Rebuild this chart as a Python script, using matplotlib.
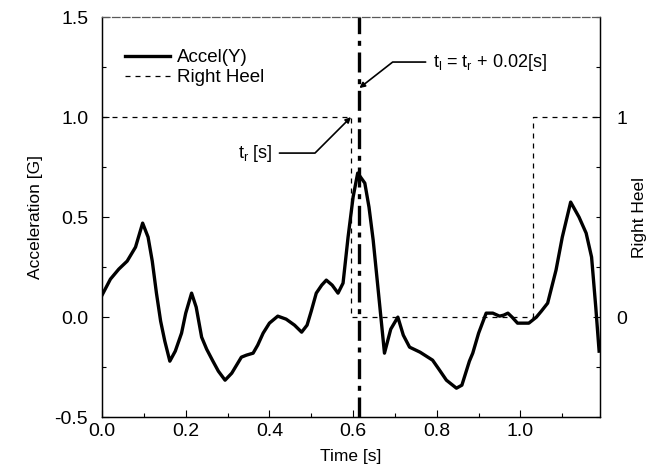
import matplotlib
matplotlib.use("Agg")
import matplotlib.pyplot as plt
from matplotlib.ticker import MultipleLocator, FixedLocator, FormatStrFormatter

plt.rcParams['font.family'] = ['Liberation Sans', 'DejaVu Sans']
plt.rcParams['mathtext.fontset'] = 'custom'
plt.rcParams['mathtext.rm'] = 'Liberation Sans'
plt.rcParams['mathtext.it'] = 'Liberation Sans'

# acceleration (Y)
time = [0.00, 0.02, 0.04, 0.06, 0.08, 0.097, 0.11, 0.12, 0.13, 0.14, 0.15, 0.162,
        0.175, 0.19, 0.20, 0.214, 0.225, 0.238, 0.25, 0.265, 0.278, 0.294, 0.31, 0.333,
        0.345, 0.361, 0.372, 0.385, 0.40, 0.42, 0.44, 0.46, 0.477, 0.49, 0.50, 0.512,
        0.525, 0.536, 0.55, 0.564, 0.576, 0.588, 0.60, 0.611, 0.628, 0.638, 0.648, 0.66,
        0.675, 0.69, 0.707, 0.72, 0.735, 0.76, 0.79, 0.805, 0.823, 0.847, 0.86, 0.878,
        0.886, 0.90, 0.918, 0.934, 0.95, 0.96, 0.97, 0.98, 0.993, 1.02, 1.038, 1.05,
        1.065, 1.085, 1.10, 1.12, 1.14, 1.157, 1.17, 1.18, 1.188]
accel = [0.11, 0.19, 0.24, 0.28, 0.35, 0.47, 0.40, 0.28, 0.12, -0.02, -0.12, -0.22,
         -0.17, -0.08, 0.02, 0.12, 0.05, -0.10, -0.16, -0.22, -0.27, -0.315, -0.28, -0.20,
         -0.19, -0.18, -0.14, -0.08, -0.03, 0.005, -0.01, -0.04, -0.075, -0.04, 0.03, 0.12,
         0.16, 0.185, 0.16, 0.12, 0.17, 0.40, 0.60, 0.72, 0.67, 0.55, 0.385, 0.135,
         -0.18, -0.06, 0.00, -0.09, -0.15, -0.175, -0.215, -0.26, -0.315, -0.355, -0.34, -0.22,
         -0.18, -0.08, 0.02, 0.02, 0.005, 0.01, 0.02, 0.00, -0.03, -0.03, 0.00, 0.03,
         0.07, 0.235, 0.40, 0.575, 0.50, 0.42, 0.30, 0.05, -0.17]

# right heel switch (on/off)
heel_t = [0.0, 0.595, 0.595, 1.03, 1.03, 1.19]
heel = [1, 1, 0, 0, 1, 1]

t_r = 0.595
t_l = t_r + 0.02

fig = plt.figure(figsize=(6.5, 4.73), dpi=100)
ax = fig.add_axes([0.157, 0.118, 0.766, 0.846])
ax2 = ax.twinx()

dash = (0, (4, 4))
ax.plot(time, accel, color='black', lw=2.4, label='Accel(Y)')
ax.plot([], [], color='black', lw=0.9, ls=dash, label='Right Heel')
ax2.plot(heel_t, heel, color='black', lw=0.9, ls=dash)
ax.axvline(t_l, color='black', lw=2.4, ls=(0, (6, 2, 1.5, 2)))

ax.set_xlim(0, 1.19)
ax.set_ylim(-0.5, 1.5)
ax2.set_ylim(-0.5, 1.5)
ax.xaxis.set_major_locator(MultipleLocator(0.2))
ax.xaxis.set_minor_locator(MultipleLocator(0.1))
ax.yaxis.set_major_locator(MultipleLocator(0.5))
ax.yaxis.set_minor_locator(MultipleLocator(0.25))
ax2.yaxis.set_major_locator(FixedLocator([0, 1]))
ax2.yaxis.set_minor_locator(MultipleLocator(0.25))
ax.xaxis.set_major_formatter(FormatStrFormatter('%.1f'))
ax.yaxis.set_major_formatter(FormatStrFormatter('%.1f'))

for a in (ax, ax2):
    a.tick_params(which='both', direction='in', labelsize=14, width=0.8)
    a.tick_params(which='major', length=5)
    a.tick_params(which='minor', length=3)
    for s in a.spines.values():
        s.set_linewidth(0.9)
ax.tick_params(axis='y', pad=10)
ax.tick_params(axis='x', pad=4)
ax2.tick_params(axis='y', pad=12)
ax2.spines['top'].set_linestyle((0, (6, 2)))
ax2.spines['top'].set_color('0.35')
ax.spines['top'].set_visible(False)

ax.set_xlabel('Time [s]', fontsize=12.5, labelpad=7)
ax.set_ylabel('Acceleration [G]', fontsize=12.5, labelpad=8)
ax2.set_ylabel('Right Heel', fontsize=12.5, labelpad=3)

ax.legend(loc='upper left', frameon=False, fontsize=13.5, handlelength=2.4,
          borderpad=0, borderaxespad=0, handletextpad=0.35, labelspacing=0.15,
          bbox_to_anchor=(0.046, 0.92))

ax.annotate(r'$t_r$ [s]', xy=(t_r, 1.0), xytext=(0.325, 0.82), fontsize=13,
            va='center', ha='left',
            arrowprops=dict(arrowstyle='-|>', color='black', lw=1.2, mutation_scale=8,
                            shrinkA=3, shrinkB=0,
                            connectionstyle='angle,angleA=0,angleB=45,rad=0'))
ax.annotate(r'$t_l$ = $t_r$ + 0.02[s]', xy=(t_l, 1.145), xytext=(0.79, 1.275), fontsize=13,
            va='center', ha='left',
            arrowprops=dict(arrowstyle='-|>', color='black', lw=1.2, mutation_scale=8,
                            shrinkA=3, shrinkB=0,
                            connectionstyle='angle,angleA=180,angleB=38,rad=0'))

fig.savefig('out.png', dpi=100)
